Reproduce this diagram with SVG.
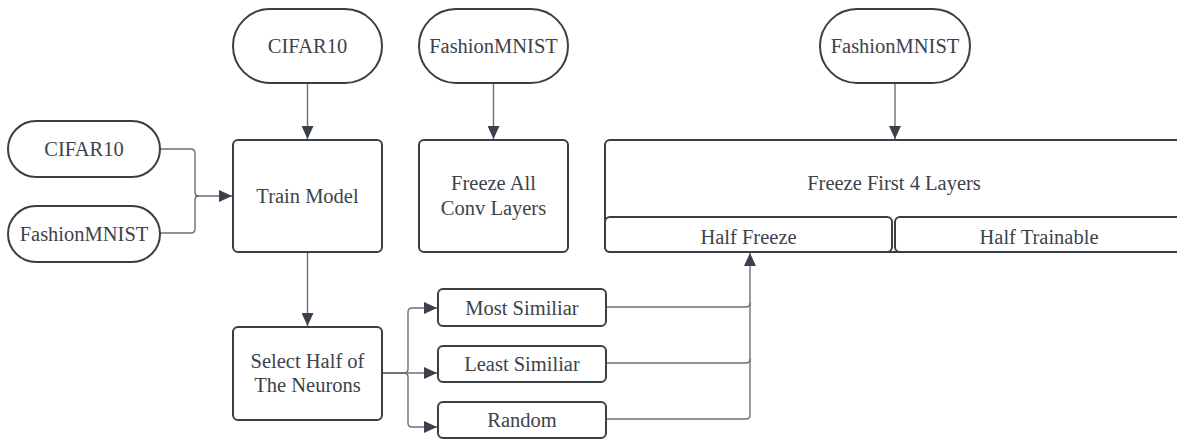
<svg xmlns="http://www.w3.org/2000/svg" width="1177" height="440" viewBox="0 0 1177 440">
  <style>
    .shape { fill: #ffffff; stroke: #3a3f45; stroke-width: 2; }
    .label { font-size: 20.5px; fill: #3d434b; text-anchor: middle; dominant-baseline: central; }
    .conn { fill: none; stroke: #6b7078; stroke-width: 1.4; }
    .conn-arrow { marker-end: url(#arrow); }
  </style>
  <defs>
    <marker id="arrow" markerUnits="userSpaceOnUse" markerWidth="13" markerHeight="12" refX="13" refY="6" orient="auto">
      <path d="M0,0 L13,6 L0,12 Z" fill="#3a414a"/>
    </marker>
  </defs>

  <rect width="1177" height="440" fill="#ffffff"/>

  <!-- connectors -->
  <g id="connectors">
    <!-- side inputs merge into Train Model -->
    <path class="conn" d="M160,149 H191 Q195,149 195,153 V192 Q195,196 199,196"/>
    <path class="conn" d="M160,233 H191 Q195,233 195,229 V200 Q195,196 199,196"/>
    <path class="conn conn-arrow" d="M195,196 H232"/>
    <!-- top inputs -->
    <path class="conn conn-arrow" d="M307.5,83 V139"/>
    <path class="conn conn-arrow" d="M493.5,83 V139"/>
    <path class="conn conn-arrow" d="M895,83 V139"/>
    <!-- Train Model to Select Half -->
    <path class="conn conn-arrow" d="M307.5,252 V326"/>
    <!-- Select Half fan-out -->
    <path class="conn conn-arrow" d="M382,373 H404 Q408,373 408,369 V312 Q408,308 412,308 H437"/>
    <path class="conn conn-arrow" d="M382,373 H437"/>
    <path class="conn conn-arrow" d="M382,373 H404 Q408,373 408,377 V423 Q408,427 412,427 H437"/>
    <!-- selection strategies into Half Freeze -->
    <path class="conn" d="M606,307 H746 Q750,307 750,303"/>
    <path class="conn" d="M606,363 H746 Q750,363 750,359"/>
    <path class="conn conn-arrow" d="M606,419 H746 Q750,419 750,415 V253"/>
  </g>

  <!-- nodes -->
  <g font-family="'Liberation Serif', 'DejaVu Serif', serif">
  <g id="node-cifar-left">
    <rect class="shape" x="8" y="121" width="152" height="56" rx="28"/>
    <text class="label" x="84" y="149">CIFAR10</text>
  </g>
  <g id="node-fmnist-left">
    <rect class="shape" x="8" y="206" width="152" height="56" rx="28"/>
    <text class="label" x="84" y="234">FashionMNIST</text>
  </g>
  <g id="node-cifar-top">
    <rect class="shape" x="233" y="9" width="149" height="74" rx="37"/>
    <text class="label" x="307.5" y="46">CIFAR10</text>
  </g>
  <g id="node-fmnist-top-a">
    <rect class="shape" x="419" y="9" width="149" height="74" rx="37"/>
    <text class="label" x="493.5" y="46">FashionMNIST</text>
  </g>
  <g id="node-fmnist-top-b">
    <rect class="shape" x="820" y="9" width="150" height="74" rx="37"/>
    <text class="label" x="895" y="46">FashionMNIST</text>
  </g>
  <g id="node-train">
    <rect class="shape" x="233" y="140" width="149" height="112" rx="5"/>
    <text class="label" x="307.5" y="196">Train Model</text>
  </g>
  <g id="node-freeze-conv">
    <rect class="shape" x="419" y="140" width="149" height="112" rx="5"/>
    <text class="label" x="493.5" y="183">Freeze All</text>
    <text class="label" x="493.5" y="208">Conv Layers</text>
  </g>
  <g id="node-select">
    <rect class="shape" x="233" y="327" width="149" height="93" rx="5"/>
    <text class="label" x="307.5" y="361">Select Half of</text>
    <text class="label" x="307.5" y="385">The Neurons</text>
  </g>
  <g id="node-freeze-first">
    <rect class="shape" x="605" y="140" width="578" height="112" rx="5"/>
    <text class="label" x="894" y="183">Freeze First 4 Layers</text>
  </g>
  <g id="node-half-freeze">
    <rect class="shape" x="605" y="217" width="287" height="35" rx="5"/>
    <text class="label" x="748.5" y="237">Half Freeze</text>
  </g>
  <g id="node-half-trainable">
    <rect class="shape" x="895" y="217" width="288" height="35" rx="5"/>
    <text class="label" x="1039" y="237">Half Trainable</text>
  </g>
  <g id="node-most">
    <rect class="shape" x="438" y="289" width="168" height="37" rx="5"/>
    <text class="label" x="522" y="308">Most Similiar</text>
  </g>
  <g id="node-least">
    <rect class="shape" x="438" y="346" width="168" height="36" rx="5"/>
    <text class="label" x="522" y="364">Least Similiar</text>
  </g>
  <g id="node-random">
    <rect class="shape" x="438" y="402" width="168" height="36" rx="5"/>
    <text class="label" x="522" y="420">Random</text>
  </g>
  </g>
</svg>
